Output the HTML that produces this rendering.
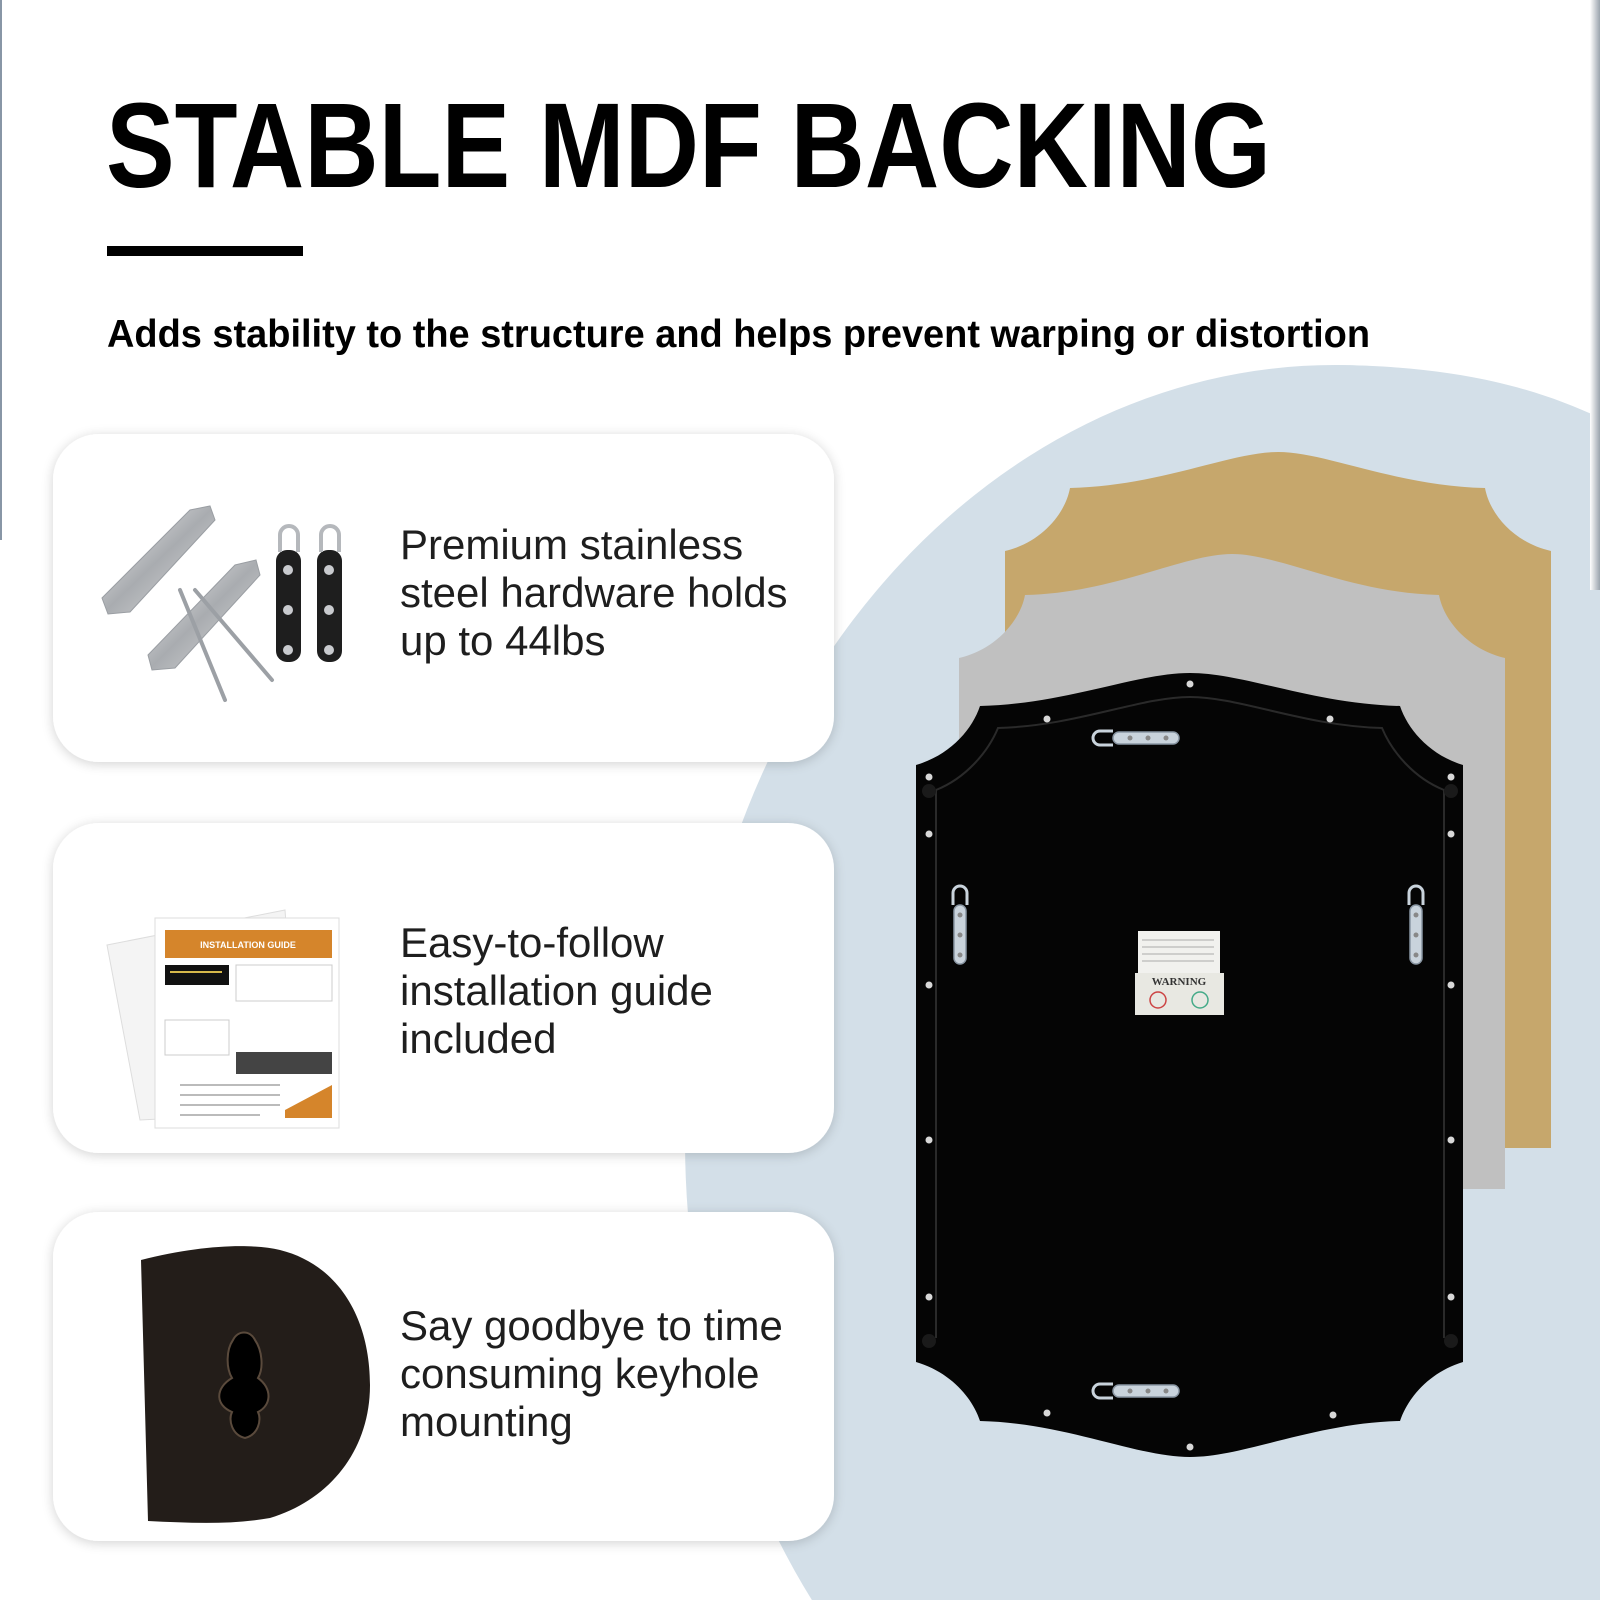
<!DOCTYPE html>
<html><head><meta charset="utf-8"><style>
html,body{margin:0;padding:0;background:#fff;width:1600px;height:1600px;overflow:hidden;}
svg{display:block;}
</style></head><body>
<svg width="1600" height="1600" viewBox="0 0 1600 1600" xmlns="http://www.w3.org/2000/svg">
<defs>
<filter id="sh" x="-10%" y="-15%" width="120%" height="130%">
<feGaussianBlur in="SourceAlpha" stdDeviation="6"/>
<feOffset dx="0" dy="2"/>
<feComponentTransfer><feFuncA type="linear" slope="0.18"/></feComponentTransfer>
<feMerge><feMergeNode/><feMergeNode in="SourceGraphic"/></feMerge>
</filter>
<linearGradient id="metal" x1="0" y1="0" x2="1" y2="1">
<stop offset="0" stop-color="#f2f2f2"/><stop offset="0.5" stop-color="#a9acb0"/><stop offset="1" stop-color="#e0e0e0"/>
</linearGradient>
<linearGradient id="edge" x1="0" y1="0" x2="1" y2="0">
<stop offset="0" stop-color="#fff"/><stop offset="1" stop-color="#9aa3ad"/>
</linearGradient>
</defs>
<rect width="1600" height="1600" fill="#fff"/>
<rect x="0" y="0" width="2" height="540" fill="#8896a6"/>
<!-- big blue ellipse -->
<ellipse cx="1335" cy="1140" rx="650" ry="775" fill="#d3dfe8"/>
<path d="M1335,365 C1450,366 1530,385 1600,418 L1600,1600 L1335,1600 Z" fill="#d3dfe8"/>
<rect x="1590" y="0" width="10" height="590" fill="url(#edge)"/>
<!-- title -->
<text x="106" y="187" font-family="Liberation Sans, sans-serif" font-weight="bold" font-size="121" fill="#000" textLength="1165" lengthAdjust="spacingAndGlyphs">STABLE MDF BACKING</text>
<rect x="107" y="246" width="196" height="10" fill="#000"/>
<text x="107" y="347" font-family="Liberation Sans, sans-serif" font-weight="bold" font-size="39" fill="#000" textLength="1263" lengthAdjust="spacingAndGlyphs">Adds stability to the structure and helps prevent warping or distortion</text>

<!-- gold frame -->
<path d="M1005,551 C1040,543 1065,515 1070,488 C1160,486 1230,452 1278,452 C1326,452 1396,486 1485,488 C1490,515 1515,543 1551,551 L1551,1148 L1005,1148 Z" fill="#c6a76c"/>
<!-- gray frame -->
<path d="M959,658 C994,650 1020,622 1025,595 C1114,593 1184,554 1232,554 C1280,554 1350,593 1439,595 C1444,622 1470,650 1505,658 L1505,1189 L959,1189 Z" fill="#c0c0c0"/>
<!-- black mirror -->
<path d="M916,765 C950,755 972,730 980,706 C1066,704 1136,673 1190,673 C1244,673 1314,704 1400,706 C1408,730 1430,755 1463,765 L1463,1362 C1430,1372 1408,1397 1400,1421 C1314,1423 1244,1457 1190,1457 C1136,1457 1066,1423 980,1421 C972,1397 950,1372 916,1362 Z" fill="#050505"/>
<path d="M936,790 C966,778 988,752 998,728 C1076,726 1140,697 1190,697 C1240,697 1304,726 1382,728 C1392,752 1414,778 1444,790 L1444,1338" fill="none" stroke="#2a2a2a" stroke-width="2"/>
<line x1="936" y1="790" x2="936" y2="1338" stroke="#2a2a2a" stroke-width="2"/>
<g fill="#d8d8d8">
<circle cx="1190" cy="684" r="3.5"/><circle cx="1047" cy="719" r="3.5"/><circle cx="1330" cy="719" r="3.5"/>
<circle cx="929" cy="777" r="3.5"/><circle cx="1451" cy="777" r="3.5"/>
<circle cx="929" cy="834" r="3.5"/><circle cx="1451" cy="834" r="3.5"/>
<circle cx="929" cy="985" r="3.5"/><circle cx="1451" cy="985" r="3.5"/>
<circle cx="929" cy="1140" r="3.5"/><circle cx="1451" cy="1140" r="3.5"/>
<circle cx="929" cy="1297" r="3.5"/><circle cx="1451" cy="1297" r="3.5"/>
<circle cx="1047" cy="1413" r="3.5"/><circle cx="1333" cy="1415" r="3.5"/><circle cx="1190" cy="1447" r="3.5"/>
</g>
<g fill="#1a1a1a"><circle cx="929" cy="791" r="7"/><circle cx="1451" cy="791" r="7"/><circle cx="929" cy="1341" r="7"/><circle cx="1451" cy="1341" r="7"/></g>
<!-- hangers -->
<g fill="#c9d3dc" stroke="#8a97a4" stroke-width="1.5">
<rect x="1113" y="732" width="66" height="12" rx="6"/>
<path d="M1113,731 L1100,731 A7,7 0 0 0 1100,745 L1113,745" fill="none" stroke="#c9d3dc" stroke-width="3"/>
<rect x="1113" y="1385" width="66" height="12" rx="6"/>
<path d="M1113,1384 L1100,1384 A7,7 0 0 0 1100,1398 L1113,1398" fill="none" stroke="#c9d3dc" stroke-width="3"/>
<rect x="954" y="905" width="12" height="59" rx="6"/>
<rect x="1410" y="905" width="12" height="59" rx="6"/>
<path d="M953,905 L953,893 A7,7 0 0 1 967,893 L967,905" fill="none" stroke="#c9d3dc" stroke-width="3"/>
<path d="M1409,905 L1409,893 A7,7 0 0 1 1423,893 L1423,905" fill="none" stroke="#c9d3dc" stroke-width="3"/>
</g>
<g fill="#888"><circle cx="1130" cy="738" r="2.5"/><circle cx="1148" cy="738" r="2.5"/><circle cx="1166" cy="738" r="2.5"/>
<circle cx="1130" cy="1391" r="2.5"/><circle cx="1148" cy="1391" r="2.5"/><circle cx="1166" cy="1391" r="2.5"/>
<circle cx="960" cy="915" r="2.5"/><circle cx="960" cy="935" r="2.5"/><circle cx="960" cy="955" r="2.5"/>
<circle cx="1416" cy="915" r="2.5"/><circle cx="1416" cy="935" r="2.5"/><circle cx="1416" cy="955" r="2.5"/></g>
<!-- label -->
<rect x="1138" y="931" width="82" height="44" fill="#f1f1ee"/>
<rect x="1135" y="973" width="89" height="42" fill="#e8e8e2"/>
<text x="1179" y="985" font-family="Liberation Serif, serif" font-size="11" font-weight="bold" text-anchor="middle" fill="#333">WARNING</text>
<g stroke="#aaa" stroke-width="1"><line x1="1142" y1="940" x2="1214" y2="940"/><line x1="1142" y1="947" x2="1214" y2="947"/><line x1="1142" y1="954" x2="1214" y2="954"/><line x1="1142" y1="961" x2="1214" y2="961"/></g>
<circle cx="1158" cy="1000" r="8" fill="none" stroke="#c44" stroke-width="1.5"/>
<circle cx="1200" cy="1000" r="8" fill="none" stroke="#4a8" stroke-width="1.5"/>

<!-- cards -->
<g filter="url(#sh)" fill="#fff">
<rect x="53" y="434" width="781" height="328" rx="46"/>
<rect x="53" y="823" width="781" height="330" rx="46"/>
<rect x="53" y="1212" width="781" height="329" rx="46"/>
</g>
<g font-family="Liberation Sans, sans-serif" font-size="42" fill="#1e1e1e">
<text x="400" y="559">Premium stainless</text>
<text x="400" y="607">steel hardware holds</text>
<text x="400" y="655">up to 44lbs</text>
<text x="400" y="957">Easy-to-follow</text>
<text x="400" y="1005">installation guide</text>
<text x="400" y="1053">included</text>
<text x="400" y="1340">Say goodbye to time</text>
<text x="400" y="1388">consuming keyhole</text>
<text x="400" y="1436">mounting</text>
</g>

<!-- card1 hardware -->
<g fill="url(#metal)" stroke="#9a9ea3" stroke-width="1">
<path d="M102,598 L190,510 L210,506 L215,520 L130,612 L108,614 Z"/>
<path d="M148,655 L235,565 L256,560 L260,575 L175,668 L152,670 Z"/>
</g>
<g stroke="#9ca0a5" stroke-width="4" stroke-linecap="round">
<line x1="180" y1="590" x2="225" y2="700"/><line x1="195" y1="590" x2="272" y2="680"/>
</g>
<g fill="#1e1e1e">
<rect x="276" y="550" width="25" height="112" rx="11"/>
<rect x="317" y="550" width="25" height="112" rx="11"/>
</g>
<g fill="none" stroke="#b5b8bc" stroke-width="4">
<path d="M280,552 L280,535 A9,9 0 0 1 298,535 L298,552"/>
<path d="M321,552 L321,535 A9,9 0 0 1 339,535 L339,552"/>
</g>
<g fill="#c9cbcf"><circle cx="288" cy="570" r="5"/><circle cx="288" cy="610" r="5"/><circle cx="288" cy="650" r="5"/><circle cx="329" cy="570" r="5"/><circle cx="329" cy="610" r="5"/><circle cx="329" cy="650" r="5"/></g>

<!-- card2 doc -->
<path d="M107,945 L285,910 L300,1112 L140,1120 Z" fill="#f4f4f4" stroke="#ddd"/>
<rect x="155" y="918" width="184" height="210" fill="#fff" stroke="#ddd"/>
<rect x="165" y="930" width="167" height="28" fill="#d5852b"/>
<text x="248" y="948" font-family="Liberation Sans, sans-serif" font-size="9" font-weight="bold" fill="#fff" text-anchor="middle">INSTALLATION GUIDE</text>
<rect x="165" y="965" width="64" height="20" fill="#111"/>
<line x1="170" y1="972" x2="222" y2="972" stroke="#d6b84a" stroke-width="2"/>
<rect x="236" y="965" width="96" height="36" fill="#fff" stroke="#ccc"/>
<rect x="165" y="1020" width="64" height="35" fill="#fff" stroke="#ccc"/>
<rect x="236" y="1052" width="96" height="22" fill="#444"/>
<path d="M285,1110 L332,1085 L332,1118 L285,1118 Z" fill="#d5852b"/>
<g stroke="#bbb" stroke-width="2"><line x1="180" y1="1085" x2="280" y2="1085"/><line x1="180" y1="1095" x2="280" y2="1095"/><line x1="180" y1="1105" x2="280" y2="1105"/><line x1="180" y1="1115" x2="260" y2="1115"/></g>

<!-- card3 keyhole -->
<path d="M141,1260 C200,1245 250,1243 280,1250 C340,1265 370,1320 370,1385 C370,1450 330,1500 270,1518 C230,1525 190,1523 148,1521 Z" fill="#231d19"/>
<path d="M233,1340 C226,1350 226,1368 232,1378 C215,1388 215,1405 232,1412 C228,1420 232,1435 245,1438 C258,1435 262,1420 258,1412 C272,1405 272,1388 258,1378 C264,1368 262,1350 255,1340 C250,1330 238,1330 233,1340 Z" fill="#000" stroke="#5a4a3c" stroke-width="2"/>
</svg>
</body></html>
